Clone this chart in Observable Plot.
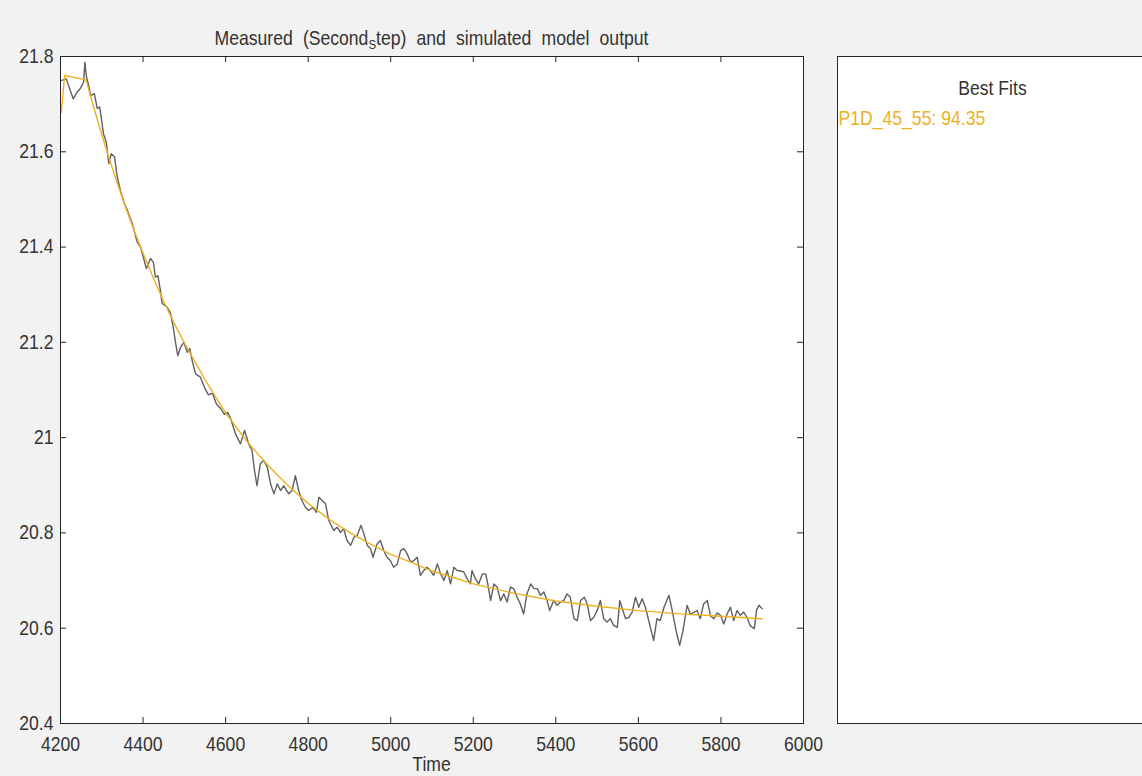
<!DOCTYPE html>
<html>
<head>
<meta charset="utf-8">
<script src="https://cdn.jsdelivr.net/npm/d3@7"></script>
<script src="https://cdn.jsdelivr.net/npm/@observablehq/plot@0.6"></script>
<style>
  html, body { margin: 0; padding: 0; background: #f2f2f2; }
  #chart svg { display: block; }
</style>
</head>
<body>
<div id="chart"></div>
<script>
// Axis tick values
const xTicks = [4200, 4400, 4600, 4800, 5000, 5200, 5400, 5600, 5800, 6000];
const yTicks = [20.4, 20.6, 20.8, 21, 21.2, 21.4, 21.6, 21.8];

// Measured output: [time, value]
const measured = [
  [4203, 21.750], [4214, 21.753], [4231, 21.711], [4240, 21.725], [4248, 21.733], [4256, 21.746],
  [4259, 21.788], [4263, 21.757], [4269, 21.736], [4273, 21.718], [4282, 21.722], [4289, 21.691],
  [4295, 21.694], [4299, 21.670], [4304, 21.638], [4311, 21.620], [4317, 21.575], [4323, 21.596],
  [4331, 21.589], [4337, 21.550], [4345, 21.519], [4355, 21.491], [4362, 21.477], [4374, 21.449],
  [4386, 21.410], [4394, 21.400], [4408, 21.355], [4418, 21.376], [4425, 21.368], [4430, 21.337],
  [4436, 21.340], [4442, 21.309], [4446, 21.282], [4458, 21.274], [4466, 21.263], [4473, 21.232],
  [4479, 21.198], [4484, 21.172], [4491, 21.190], [4499, 21.200], [4507, 21.179], [4513, 21.187],
  [4519, 21.162], [4527, 21.134], [4539, 21.127], [4549, 21.105], [4558, 21.090], [4568, 21.093],
  [4578, 21.070], [4588, 21.061], [4597, 21.049], [4605, 21.053], [4612, 21.040], [4624, 21.008],
  [4636, 20.987], [4646, 21.015], [4656, 20.987], [4664, 20.973], [4670, 20.931], [4676, 20.899],
  [4684, 20.945], [4692, 20.952], [4701, 20.938], [4709, 20.903], [4717, 20.882], [4725, 20.903],
  [4733, 20.889], [4741, 20.899], [4753, 20.882], [4761, 20.889], [4769, 20.920], [4777, 20.889],
  [4785, 20.868], [4793, 20.854], [4801, 20.847], [4812, 20.854], [4820, 20.843], [4826, 20.875],
  [4834, 20.868], [4842, 20.861], [4850, 20.826], [4862, 20.805], [4870, 20.812], [4878, 20.801],
  [4886, 20.809], [4894, 20.784], [4903, 20.774], [4911, 20.791], [4919, 20.795], [4928, 20.816],
  [4935, 20.798], [4943, 20.774], [4951, 20.767], [4957, 20.749], [4967, 20.777], [4975, 20.784],
  [4983, 20.763], [4991, 20.749], [4999, 20.742], [5007, 20.728], [5016, 20.735], [5024, 20.763],
  [5032, 20.767], [5040, 20.756], [5048, 20.739], [5056, 20.742], [5064, 20.749], [5072, 20.711],
  [5080, 20.721], [5088, 20.728], [5096, 20.721], [5104, 20.711], [5113, 20.735], [5121, 20.714],
  [5129, 20.700], [5137, 20.721], [5145, 20.693], [5153, 20.728], [5161, 20.721], [5169, 20.720],
  [5177, 20.718], [5185, 20.704], [5193, 20.693], [5197, 20.721], [5205, 20.704], [5213, 20.693],
  [5222, 20.714], [5230, 20.714], [5235, 20.693], [5242, 20.658], [5250, 20.693], [5258, 20.686],
  [5266, 20.658], [5274, 20.672], [5282, 20.655], [5290, 20.686], [5298, 20.683], [5306, 20.665],
  [5314, 20.651], [5322, 20.630], [5330, 20.672], [5339, 20.693], [5347, 20.683], [5355, 20.683],
  [5363, 20.669], [5371, 20.676], [5379, 20.658], [5385, 20.637], [5395, 20.658], [5403, 20.648],
  [5411, 20.655], [5419, 20.658], [5427, 20.672], [5435, 20.665], [5444, 20.620], [5452, 20.616],
  [5460, 20.658], [5469, 20.665], [5476, 20.651], [5484, 20.616], [5492, 20.623], [5500, 20.637],
  [5508, 20.658], [5516, 20.620], [5524, 20.613], [5532, 20.620], [5540, 20.606], [5549, 20.602],
  [5555, 20.658], [5561, 20.641], [5569, 20.620], [5577, 20.623], [5585, 20.634], [5593, 20.665],
  [5601, 20.644], [5609, 20.662], [5617, 20.644], [5625, 20.616], [5637, 20.574], [5645, 20.620],
  [5653, 20.616], [5662, 20.644], [5674, 20.669], [5682, 20.637], [5692, 20.592], [5700, 20.564],
  [5708, 20.595], [5718, 20.648], [5726, 20.629], [5734, 20.633], [5742, 20.637], [5750, 20.620],
  [5758, 20.651], [5767, 20.658], [5775, 20.625], [5783, 20.620], [5791, 20.632], [5799, 20.627],
  [5807, 20.609], [5815, 20.630], [5823, 20.644], [5831, 20.616], [5839, 20.637], [5847, 20.627],
  [5855, 20.634], [5863, 20.623], [5871, 20.605], [5881, 20.599], [5886, 20.637], [5892, 20.648],
  [5900, 20.641]
];

// Simulated model output (P1D_45_55): [time, value]
const simulated = [
  [4202, 21.683], [4210, 21.760], [4262, 21.751], [4275, 21.710], [4290, 21.665], [4305, 21.622],
  [4320, 21.580], [4340, 21.528], [4360, 21.478], [4380, 21.431], [4400, 21.387], [4425, 21.335],
  [4450, 21.286], [4475, 21.241], [4500, 21.199], [4550, 21.122], [4600, 21.052], [4650, 20.994],
  [4700, 20.944], [4750, 20.900], [4800, 20.862], [4850, 20.829], [4900, 20.801], [4950, 20.777],
  [5000, 20.755], [5050, 20.738], [5100, 20.720], [5150, 20.707], [5200, 20.693], [5300, 20.673],
  [5400, 20.657], [5500, 20.646], [5600, 20.637], [5700, 20.630], [5800, 20.625], [5900, 20.620]
];

const fitLabel = "P1D_45_55: 94.35";
const panelTitle = "Best Fits";
const xLabel = "Time";

const axisColor = "#262626";
const textColor = "#333333";
const simColor = "#edb120";
const measColor = "#606060";
const fontFamily = "'Liberation Sans', Arial, Helvetica, sans-serif";
const squeeze = "scale(0.88,1)";

const W = 1142, H = 776;
const m = {top: 56, right: 339, bottom: 53, left: 60};
const innerW = W - m.left - m.right;
const innerH = H - m.top - m.bottom;
const tickLen = 6;
const fmt = d => String(d);

const chart = Plot.plot({
  width: W,
  height: H,
  marginTop: m.top,
  marginRight: m.right,
  marginBottom: m.bottom,
  marginLeft: m.left,
  style: {background: "transparent", fontFamily, fontSize: "20px", color: textColor, overflow: "visible"},
  x: {domain: [4200, 6000]},
  y: {domain: [20.4, 21.8]},
  marks: [
    Plot.frame({fill: "white", stroke: null}),
    Plot.line(measured, {x: d => d[0], y: d => d[1], stroke: measColor, strokeWidth: 1.4}),
    Plot.line(simulated, {x: d => d[0], y: d => d[1], stroke: simColor, strokeWidth: 1.4}),
    // inward ticks on all four sides
    Plot.tickX(xTicks, {x: d => d, insetTop: innerH - tickLen, stroke: axisColor}),
    Plot.tickX(xTicks, {x: d => d, insetBottom: innerH - tickLen, stroke: axisColor}),
    Plot.tickY(yTicks, {y: d => d, insetRight: innerW - tickLen, stroke: axisColor}),
    Plot.tickY(yTicks, {y: d => d, insetLeft: innerW - tickLen, stroke: axisColor}),
    Plot.frame({stroke: axisColor, strokeWidth: 1}),
    Plot.axisX(xTicks, {tickSize: 0, tickPadding: 13, label: null, tickFormat: fmt}),
    Plot.axisY(yTicks, {tickSize: 0, tickPadding: 7, label: null, tickFormat: fmt})
  ]
});

const svg = d3.select(chart);

// narrow the tick labels horizontally
svg.selectAll("text").each(function () {
  let t = this.getAttribute("transform");
  if (t == null) {
    const x = +this.getAttribute("x") || 0, y = +this.getAttribute("y") || 0;
    this.removeAttribute("x"); this.removeAttribute("y");
    t = `translate(${x},${y})`;
  }
  this.setAttribute("transform", `${t} ${squeeze}`);
});

// title with subscript
const title = svg.append("text")
  .attr("transform", `translate(${m.left + innerW / 2},45) ${squeeze}`)
  .attr("text-anchor", "middle")
  .attr("fill", textColor)
  .style("font-size", "20px")
  .style("word-spacing", "6px");
title.append("tspan").text("Measured (Second");
title.append("tspan").attr("dy", 4).style("font-size", "13px").text("S");
title.append("tspan").attr("dy", -4).text("tep) and simulated model output");

// x-axis label
svg.append("text")
  .attr("transform", `translate(${m.left + innerW / 2},771) ${squeeze}`)
  .attr("text-anchor", "middle")
  .attr("fill", textColor)
  .style("font-size", "20px")
  .text(xLabel);

// side panel listing the best fits
const panel = svg.append("g");
panel.append("rect")
  .attr("x", 837.5).attr("y", m.top + 0.5)
  .attr("width", 311).attr("height", innerH)
  .attr("fill", "white").attr("stroke", axisColor);
panel.append("text")
  .attr("transform", `translate(992.5,95) ${squeeze}`)
  .attr("text-anchor", "middle")
  .attr("fill", textColor)
  .style("font-size", "20px")
  .text(panelTitle);
panel.append("text")
  .attr("transform", `translate(838.5,125) ${squeeze}`)
  .attr("text-anchor", "start")
  .attr("fill", simColor)
  .style("font-size", "20px")
  .text(fitLabel);

document.getElementById("chart").appendChild(chart);
</script>
</body>
</html>
